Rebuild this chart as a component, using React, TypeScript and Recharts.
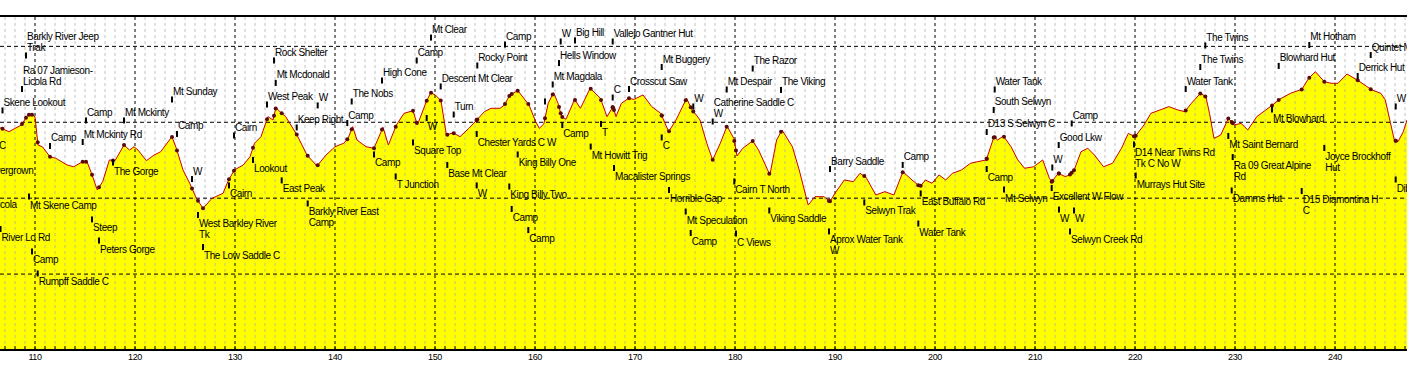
import { ComposedChart, Area, Line, Scatter, XAxis, YAxis, ReferenceLine } from "recharts";

// track profile (km along track, elevation m)
const profileKm = [
  106.5, 107.4, 108.64, 109.27, 109.6, 110.0, 110.3, 110.74, 111.5, 112.08,
  113.2, 113.87, 114.76, 115.2, 115.65, 116.23, 116.77, 117.44, 118.0, 118.9,
  119.45, 119.9, 120.3, 121.14, 121.9, 122.57, 123.69, 124.13, 124.8, 125.47,
  126.14, 126.8, 127.7, 128.8, 129.36, 129.94, 130.83, 131.5, 131.95, 132.6,
  133.29, 133.8, 134.09, 134.6, 135.07, 136.2, 137.2, 138.2, 139.1, 140.0,
  140.88, 141.3, 141.77, 142.2, 143.1, 143.9, 144.8, 145.34, 146.14, 146.9,
  147.8, 148.24, 149.13, 149.58, 150.03, 150.6, 151.14, 151.8, 152.5, 153.38,
  154.18, 154.94, 155.6, 156.5, 156.95, 157.48, 158.29, 159.4, 160.07, 160.43,
  160.88, 161.32, 161.86, 162.3, 162.66, 163.1, 163.96, 164.54, 165.52, 166.54,
  167.2, 167.8, 168.1, 168.64, 169.36, 169.9, 170.8, 171.68, 172.57, 173.37,
  174.1, 175.16, 175.7, 176.14, 176.5, 177.18, 177.76, 178.53, 179.2, 179.88,
  180.2, 180.78, 181.77, 182.36, 183.49, 184.16, 184.7, 185.74, 186.42, 187.32,
  188.0, 188.9, 189.48, 190.0, 190.93, 191.83, 192.5, 193.1, 194.08, 194.99,
  195.89, 196.79, 197.7, 198.5, 199.04, 199.7, 200.4, 201.07, 201.75, 202.65,
  203.55, 204.23, 205.13, 205.9, 206.26, 206.84, 207.6, 208.28, 208.96, 209.86,
  210.77, 211.44, 211.67, 212.34, 213.02, 213.47, 213.92, 214.6, 215.27, 215.95,
  216.85, 217.75, 218.65, 219.33, 220.0, 220.9, 221.59, 222.49, 223.39, 224.29,
  224.97, 225.64, 226.55, 227.09, 227.45, 227.9, 228.57, 229.34, 229.93, 230.6,
  231.28, 232.18, 233.08, 233.76, 234.44, 235.56, 236.69, 237.37, 238.04, 238.94,
  239.62, 240.3, 241.2, 242.33, 243.68, 244.58, 245.03, 245.48, 245.93, 246.3,
  246.83, 247.2,
];

const profileElev = [
  1464, 1438, 1482, 1548, 1553, 1537, 1350, 1339, 1273, 1263,
  1219, 1207, 1240, 1240, 1164, 1054, 1109, 1252, 1247, 1350,
  1317, 1339, 1317, 1247, 1284, 1306, 1405, 1329, 1186, 1098,
  999, 933, 999, 1032, 1120, 1186, 1219, 1273, 1362, 1405,
  1537, 1515, 1596, 1563, 1537, 1416, 1284, 1212, 1284, 1339,
  1362, 1394, 1471, 1383, 1339, 1329, 1467, 1350, 1482, 1559,
  1576, 1482, 1636, 1695, 1680, 1642, 1416, 1431, 1405, 1460,
  1515, 1570, 1592, 1592, 1614, 1680, 1708, 1614, 1504, 1460,
  1489, 1625, 1695, 1625, 1537, 1520, 1651, 1592, 1724, 1658,
  1537, 1603, 1537, 1625, 1658, 1651, 1680, 1603, 1559, 1438,
  1515, 1658, 1581, 1548, 1515, 1362, 1252, 1362, 1475, 1394,
  1278, 1329, 1377, 1317, 1153, 1383, 1449, 1339, 1186, 955,
  1010, 1010, 977, 1032, 1120, 1109, 1164, 1138, 1021, 1043,
  1021, 1174, 1120, 1076, 1120, 1098, 1153, 1120, 1164, 1186,
  1230, 1240, 1252, 1405, 1383, 1410, 1339, 1252, 1197, 1207,
  1252, 1131, 1109, 1164, 1142, 1153, 1186, 1306, 1329, 1284,
  1207, 1230, 1329, 1427, 1405, 1482, 1559, 1581, 1603, 1581,
  1570, 1625, 1691, 1668, 1559, 1394, 1416, 1526, 1482, 1493,
  1449, 1537, 1581, 1614, 1651, 1691, 1717, 1790, 1833, 1767,
  1757, 1757, 1818, 1774, 1713, 1691, 1647, 1515, 1383, 1372,
  1438, 1515,
];

// waypoints: name, km, elevation the label hangs at, a = above its tick / b = below
const waypoints: [string, number, number, string][] = [
  ["Barkly River Jeep\nTrak", 109.1, 1940, "a"],
  ["Ra 07 Jamieson-\nLicola Rd", 108.7, 1719, "a"],
  ["Skene Lookout", 106.75, 1578, "a"],
  ["Camp", 115.1, 1512, "a"],
  ["Mt Mckinty", 118.9, 1512, "a"],
  ["Mt Sunday", 123.7, 1650, "a"],
  ["Camp", 124.2, 1423, "a"],
  ["Camp", 111.5, 1344, "a"],
  ["Mt Mckinty Rd", 114.77, 1370, "a"],
  ["C", 106.3, 1403, "b"],
  ["Overgrown", 105.2, 1238, "b"],
  ["Licola", 105.7, 1014, "b"],
  ["River Lo Rd", 106.55, 797, "b"],
  ["The Gorge", 117.8, 1235, "b"],
  ["Mt Skene Camp", 109.4, 1011, "b"],
  ["Steep", 115.7, 860, "b"],
  ["Peters Gorge", 116.4, 721, "b"],
  ["Camp", 109.7, 649, "b"],
  ["Rumpff Saddle C", 110.27, 504, "b"],
  ["W", 125.7, 1126, "a"],
  ["West Barkley River\nTk", 126.3, 889, "b"],
  ["The Low Saddle C", 126.8, 678, "b"],
  ["Cairn", 129.4, 1084, "b"],
  ["Cairn", 129.9, 1413, "a"],
  ["Lookout", 131.8, 1252, "b"],
  ["West Peak", 133.2, 1617, "a"],
  ["Mt Mcdonald", 134.07, 1759, "a"],
  ["Rock Shelter", 133.9, 1907, "a"],
  ["W", 138.27, 1611, "a"],
  ["Keep Right", 136.17, 1466, "a"],
  ["East Peak", 134.67, 1117, "b"],
  ["Barkly River East\nCamp", 137.27, 965, "b"],
  ["Camp", 141.23, 1495, "a"],
  ["The Nobs", 141.67, 1637, "a"],
  ["Camp", 143.9, 1288, "b"],
  ["T Junction", 146.07, 1143, "b"],
  ["High Cone", 144.7, 1775, "a"],
  ["Square Top", 147.8, 1367, "b"],
  ["W", 149.17, 1528, "b"],
  ["Camp", 148.17, 1907, "a"],
  ["Mt Clear", 149.6, 2058, "a"],
  ["Descent Mt Clear", 150.57, 1736, "a"],
  ["Turn", 151.87, 1551, "a"],
  ["Base Mt Clear", 151.23, 1219, "b"],
  ["W", 154.17, 1084, "b"],
  ["Camp", 157.0, 2012, "a"],
  ["Rocky Point", 154.23, 1874, "a"],
  ["Chester Yards C W", 154.17, 1423, "b"],
  ["King Billy One", 158.27, 1288, "b"],
  ["King Billy Two", 157.43, 1077, "b"],
  ["Camp", 157.67, 929, "b"],
  ["Camp", 159.33, 790, "b"],
  ["W", 162.57, 2032, "a"],
  ["Big Hill", 164.0, 2039, "a"],
  ["Vallejo Gantner Hut", 167.77, 2032, "a"],
  ["Hells Window", 162.4, 1890, "a"],
  ["Mt Magdala", 161.77, 1749, "a"],
  ["C", 167.77, 1663, "a"],
  ["Crosscut Saw", 169.4, 1719, "a"],
  ["Mt Buggery", 172.67, 1864, "a"],
  ["W", 175.83, 1604, "a"],
  ["", 161.0, 1637, "a"],
  ["Camp", 162.73, 1482, "b"],
  ["T", 166.6, 1489, "b"],
  ["Mt Howitt Trig", 165.57, 1340, "b"],
  ["Macalister Springs", 167.9, 1199, "b"],
  ["C", 172.67, 1400, "b"],
  ["Horrible Gap", 173.4, 1054, "b"],
  ["Mt Speculation", 175.07, 912, "b"],
  ["Camp", 175.57, 771, "b"],
  ["The Razor", 181.77, 1854, "a"],
  ["Mt Despair", 179.17, 1716, "a"],
  ["The Viking", 184.6, 1713, "a"],
  ["Catherine Saddle C\nW", 177.77, 1505, "a"],
  ["Cairn T North", 179.93, 1110, "b"],
  ["C Views", 180.1, 767, "b"],
  ["Viking Saddle", 183.43, 919, "b"],
  ["Barry Saddle", 189.5, 1192, "a"],
  ["Aprox Water Tank\nW", 189.4, 781, "b"],
  ["Camp", 196.77, 1219, "a"],
  ["Selwyn Trak", 192.93, 972, "b"],
  ["East Buffalo Rd", 198.57, 1031, "b"],
  ["Water Tank", 198.33, 833, "b"],
  ["Camp", 205.17, 1192, "b"],
  ["Water Tank", 205.97, 1716, "a"],
  ["South Selwyn", 205.87, 1581, "a"],
  ["D13 S Selwyn C", 205.17, 1436, "a"],
  ["Camp", 213.67, 1492, "a"],
  ["Good Lkw", 212.37, 1350, "a"],
  ["W", 211.73, 1202, "a"],
  ["Mt Selwyn", 206.9, 1057, "b"],
  ["Excellent W Flow", 211.67, 1067, "b"],
  ["W", 212.4, 925, "b"],
  ["W", 213.9, 919, "b"],
  ["Selwyn Creek Rd", 213.5, 781, "b"],
  ["D14 Near Twins Rd\nTk C No W", 219.9, 1354, "b"],
  ["Murrays Hut Site", 220.07, 1149, "b"],
  ["The Twins", 227.03, 2006, "a"],
  ["The Twins", 226.53, 1864, "a"],
  ["Water Tank", 225.07, 1719, "a"],
  ["Mt Hotham", 237.43, 2009, "a"],
  ["Blowhard Hut", 234.37, 1871, "a"],
  ["Quintet Mt", 243.57, 1943, "a"],
  ["Derrick Hut", 242.27, 1805, "a"],
  ["W", 246.07, 1604, "a"],
  ["Mt Blowhard", 233.7, 1584, "b"],
  ["Mt Saint Bernard", 229.33, 1410, "b"],
  ["Ra 09 Great Alpine\nRd", 229.77, 1271, "b"],
  ["Joyce Brockhoff\nHut", 238.93, 1331, "b"],
  ["Damms Hut", 229.67, 1051, "b"],
  ["D15 Diamontina H\nC", 236.67, 1047, "b"],
  ["Dibbins Hut", 246.07, 1123, "b"],
];

const majorKm = [110, 120, 130, 140, 150, 160, 170, 180, 190, 200, 210, 220, 230, 240];
const elevGrid = [500, 1000, 1500, 2000];

const KM_MIN = 106.5;
const KM_MAX = 247.2;
const FONT = "'Liberation Sans', Arial, sans-serif";

const profile = profileKm.map((km, i) => ({ km, elev: profileElev[i] }));

// where a waypoint sits on the drawn line
function elevOnTrack(km: number) {
  for (let i = 1; i < profileKm.length; i++) {
    if (km <= profileKm[i]) {
      const t = (km - profileKm[i - 1]) / (profileKm[i] - profileKm[i - 1]);
      return profileElev[i - 1] + t * (profileElev[i] - profileElev[i - 1]);
    }
  }
  return profileElev[profileElev.length - 1];
}

const dots = waypoints
  .filter((w) => w[1] >= KM_MIN + 0.1)
  .map((w) => ({ km: w[1], elev: elevOnTrack(w[1]) }));

const labels = waypoints.map((w) => ({ name: w[0], km: w[1], elev: w[2], side: w[3] }));

const allKm: number[] = [];
for (let k = 107; k <= 247; k++) allKm.push(k);
const minorKm = allKm.filter((k) => k % 10 !== 0);

function WaypointLabel(props: any) {
  const { cx, cy, payload } = props;
  if (cx == null || cy == null) return null;
  const lines: string[] = payload.name ? payload.name.split("\n") : [];
  const n = lines.length;
  return (
    <g>
      <rect x={cx - 1} y={cy - 3} width={2} height={6} fill="#000" />
      {lines.map((ln, i) => {
        const y = payload.side === "a" ? cy - 4.5 - (n - 1 - i) * 11 : cy + 12 + i * 11;
        return (
          <text
            key={i}
            x={cx + 1}
            y={y}
            fontSize={10}
            fontFamily={FONT}
            letterSpacing={-0.4}
            fill="#000"
          >
            {ln}
          </text>
        );
      })}
    </g>
  );
}

function Dot(props: any) {
  const { cx, cy } = props;
  if (cx == null || cy == null) return null;
  return <circle cx={cx} cy={cy} r={2} fill="#5a0a0a" />;
}

function KmTick(props: any) {
  const { x, y, payload } = props;
  const v = payload.value;
  return (
    <g>
      <line x1={x} x2={x} y1={y - 4} y2={y} stroke="#000" strokeWidth={1} />
      {v % 10 === 0 && (
        <text
          x={x}
          y={y + 10}
          textAnchor="middle"
          fontSize={9}
          fontFamily={FONT}
          letterSpacing={-0.4}
          fill="#000"
        >
          {v}
        </text>
      )}
    </g>
  );
}

export default function App() {
  return (
    <div style={{ position: "absolute", left: 0, top: 0, width: 1407, height: 371, background: "#fff" }}>
      <ComposedChart
        width={1407}
        height={371}
        data={profile}
        margin={{ top: 16, right: 0, left: 0, bottom: 0 }}
      >
        <XAxis
          dataKey="km"
          type="number"
          domain={[KM_MIN, KM_MAX]}
          allowDataOverflow
          ticks={allKm}
          interval={0}
          height={21}
          tickSize={0}
          tickMargin={0}
          tickLine={false}
          axisLine={{ stroke: "#000", strokeWidth: 2 }}
          tick={(p: any) => <KmTick {...p} />}
        />
        <YAxis hide type="number" domain={[0, 2200]} />

        <Area
          type="linear"
          dataKey="elev"
          fill="#ffff00"
          fillOpacity={1}
          stroke="none"
          isAnimationActive={false}
        />

        {minorKm.map((k) => (
          <ReferenceLine
            key={"m" + k}
            x={k}
            stroke="#a8a8a8"
            strokeOpacity={0.7}
            strokeDasharray="3 3"
          />
        ))}
        {majorKm.map((k) => (
          <ReferenceLine key={"M" + k} x={k} stroke="#000" strokeDasharray="3 3" />
        ))}
        {elevGrid.map((e) => (
          <ReferenceLine key={"h" + e} y={e} stroke="#000" strokeDasharray="4 3" />
        ))}
        <ReferenceLine y={2200} stroke="#000" strokeWidth={2} />

        <Line
          type="linear"
          dataKey="elev"
          stroke="#c80000"
          strokeWidth={1}
          dot={false}
          activeDot={false}
          isAnimationActive={false}
        />
        <Scatter data={dots} dataKey="elev" shape={(p: any) => <Dot {...p} />} isAnimationActive={false} />
        <Scatter
          data={labels}
          dataKey="elev"
          shape={(p: any) => <WaypointLabel {...p} />}
          isAnimationActive={false}
        />
      </ComposedChart>
    </div>
  );
}
